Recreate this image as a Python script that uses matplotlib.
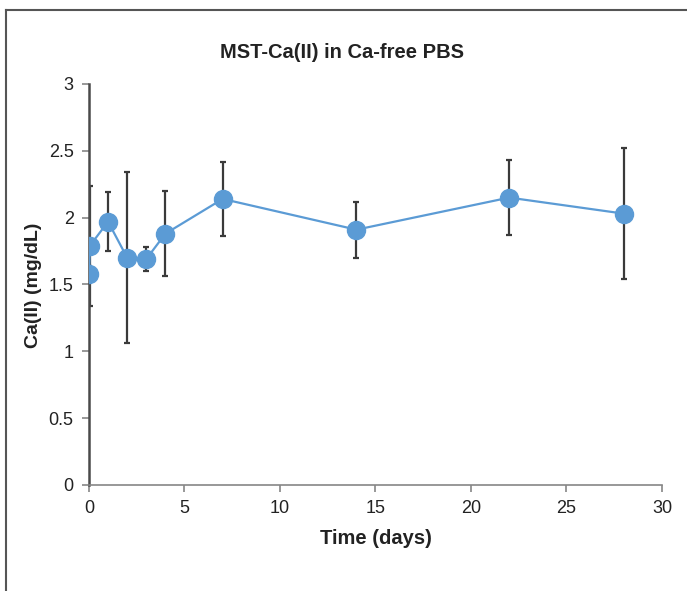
import matplotlib.pyplot as plt
from matplotlib.lines import Line2D

# Datos
tiempo = [0, 0.05, 1, 2, 3, 4, 7, 14, 22, 28]
calcio = [1.58, 1.79, 1.97, 1.70, 1.69, 1.88, 2.14, 1.91, 2.15, 2.03]
error = [0.06, 0.45, 0.22, 0.64, 0.09, 0.32, 0.28, 0.21, 0.28, 0.49]

xticks = [0, 5, 10, 15, 20, 25, 30]
yticks = [0, 0.5, 1, 1.5, 2, 2.5, 3]

plt.rcParams['font.family'] = ['Liberation Sans Narrow', 'Liberation Sans', 'DejaVu Sans']

fig = plt.figure(figsize=(6.87, 5.91), dpi=100)
ax = fig.add_axes([0.1295, 0.1794, 0.8341, 0.6785])

azul = '#5B9BD5'
ax.errorbar(tiempo, calcio, yerr=error, fmt='none', ecolor='#3a3a3a',
            elinewidth=1.6, capsize=2.5, capthick=1.6, zorder=2)
ax.plot(tiempo, calcio, color=azul, lw=1.6, marker='o', markersize=13,
        markeredgecolor=azul, zorder=3)

ax.set_xlim(0, 30)
ax.set_ylim(0, 3)
ax.set_xticks(xticks)
ax.set_yticks(yticks)
ax.set_yticklabels([f'{v:g}' for v in yticks])

for lado in ['top', 'right']:
    ax.spines[lado].set_visible(False)
ax.spines['bottom'].set_color('#868686')
ax.spines['bottom'].set_linewidth(1.2)
ax.spines['left'].set_color('#4a4a4a')
ax.spines['left'].set_linewidth(1.8)
ax.tick_params(direction='out', length=5, width=1.2, color='#868686',
               labelsize=13, labelcolor='#222222', pad=6)

fig.text(342 / 687, 1 - 53 / 591, 'MST-Ca(II) in Ca-free PBS', ha='center',
         va='center', fontsize=14.5, fontweight='bold', color='#222222')
fig.text(376 / 687, 1 - 538 / 591, 'Time (days)', ha='center', va='center',
         fontsize=14.5, fontweight='bold', color='#222222')
fig.text(33 / 687, 1 - 285 / 591, 'Ca(II) (mg/dL)', ha='center', va='center',
         rotation=90, fontsize=14, fontweight='bold', color='#222222')

# Marco del cuadro
fig.add_artist(Line2D([6 / 687, 1], [1 - 10 / 591] * 2, color='#555555', lw=1.5))
fig.add_artist(Line2D([6 / 687] * 2, [0, 1 - 10 / 591], color='#555555', lw=1.5))

plt.savefig('out.png', dpi=100)
